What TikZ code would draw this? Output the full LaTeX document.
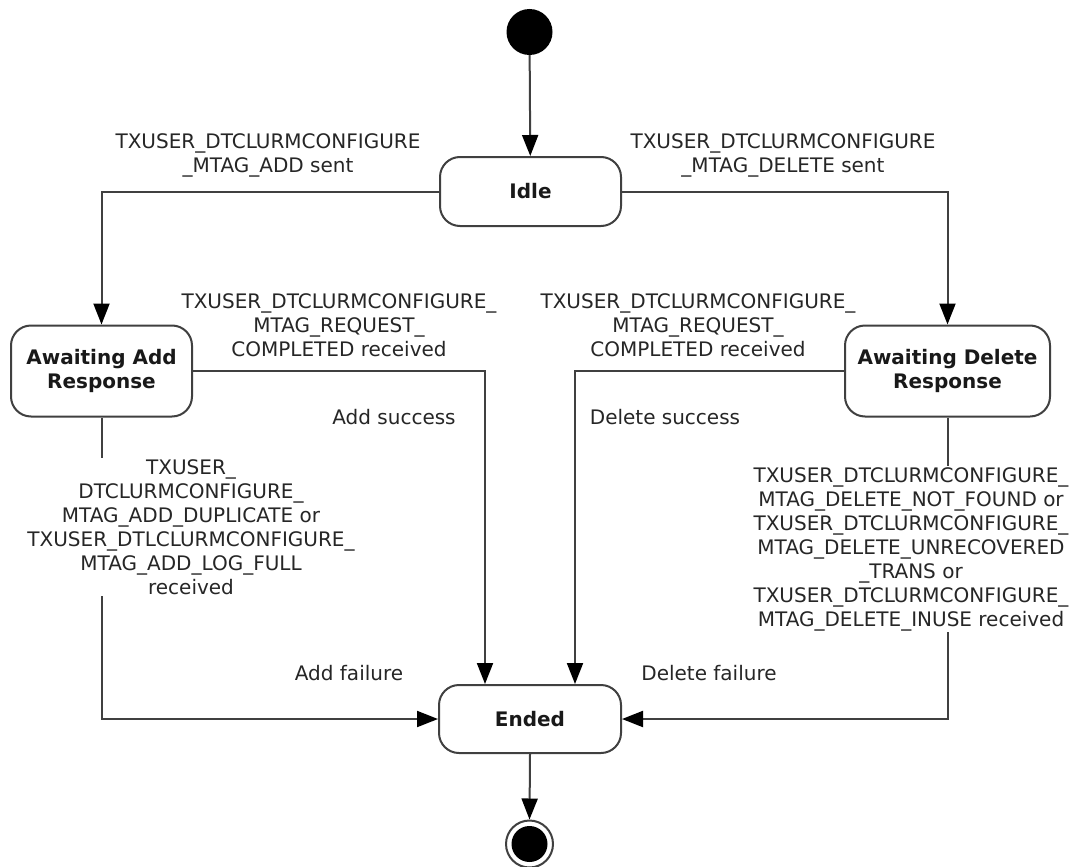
\documentclass[tikz,border=0pt]{standalone}
\usepackage{fontspec}
\setmainfont{DejaVu Sans}
\usetikzlibrary{arrows.meta}
\begin{document}
\begin{tikzpicture}[x=1pt,y=-1pt,
  state/.style={draw=black!75, line width=2pt, rounded corners=20pt, fill=white,
    font=\fontsize{20}{24}\selectfont\bfseries, text=black!90, align=center, inner sep=0pt},
  lbl/.style={font=\fontsize{20}{24}\selectfont, text=black!85, align=center, inner sep=1pt},
  conn/.style={draw=black!75, line width=2pt, -{Triangle[length=21pt,width=16pt,color=black]}}]
\fill[white] (0,0) rectangle (1076,867);
\useasboundingbox (0,0) rectangle (1076,867);

% states
\node[circle, fill=black, minimum size=46pt, inner sep=0pt] (start) at (529.5,32) {};
\node[state, minimum width=181pt, minimum height=69pt] (idle) at (530.5,191.5) {Idle};
\node[state, minimum width=181pt, minimum height=91pt] (add) at (101.5,371) {Awaiting Add\\Response};
\node[state, minimum width=205pt, minimum height=91pt] (del) at (947.5,371) {Awaiting Delete\\Response};
\node[state, minimum width=182pt, minimum height=68pt] (ended) at (530,719) {Ended};
\node[circle, draw=black!75, line width=2pt, minimum size=47pt, inner sep=0pt] (endc) at (529.5,844) {};
\node[circle, fill=black, minimum size=36pt, inner sep=0pt] (endin) at (endc) {};

% connectors
\draw[conn] (start) -- (idle);
\draw[conn] (idle.west) -| (add.north);
\draw[conn] (idle.east) -| (del.north);
\draw[conn] (add.east) -| ([xshift=-45pt]ended.north);
\draw[conn] (del.west) -| ([xshift=45pt]ended.north);
\draw[conn] (add.south) |- (ended.west);
\draw[conn] (del.south) |- (ended.east);
\draw[conn] (ended.south) -- (endc.north);

% labels
\node[lbl] (l1) at (268,155) {TXUSER\_DTCLURMCONFIGURE\\\_MTAG\_ADD sent};
\node[lbl] (l2) at (783,155) {TXUSER\_DTCLURMCONFIGURE\\\_MTAG\_DELETE sent};
\node[lbl] (l3) at (339,325) {TXUSER\_DTCLURMCONFIGURE\_\\MTAG\_REQUEST\_\\COMPLETED received};
\node[lbl] (l4) at (698,325) {TXUSER\_DTCLURMCONFIGURE\_\\MTAG\_REQUEST\_\\COMPLETED received};
\node[lbl] (l5) at (394,417) {Add success};
\node[lbl] (l6) at (665,417) {Delete success};
\node[lbl, fill=white] (l7) at (191,527) {TXUSER\_\\DTCLURMCONFIGURE\_\\MTAG\_ADD\_DUPLICATE or\\TXUSER\_DTLCLURMCONFIGURE\_\\MTAG\_ADD\_LOG\_FULL\\received};
\node[lbl] (l8) at (349,673) {Add failure};
\node[lbl] (l9) at (709,673) {Delete failure};
\node[lbl, fill=white] (l10) at (911,549) {TXUSER\_DTCLURMCONFIGURE\_\\MTAG\_DELETE\_NOT\_FOUND or\\TXUSER\_DTCLURMCONFIGURE\_\\MTAG\_DELETE\_UNRECOVERED\\\_TRANS or\\TXUSER\_DTCLURMCONFIGURE\_\\MTAG\_DELETE\_INUSE received};
\end{tikzpicture}
\end{document}
